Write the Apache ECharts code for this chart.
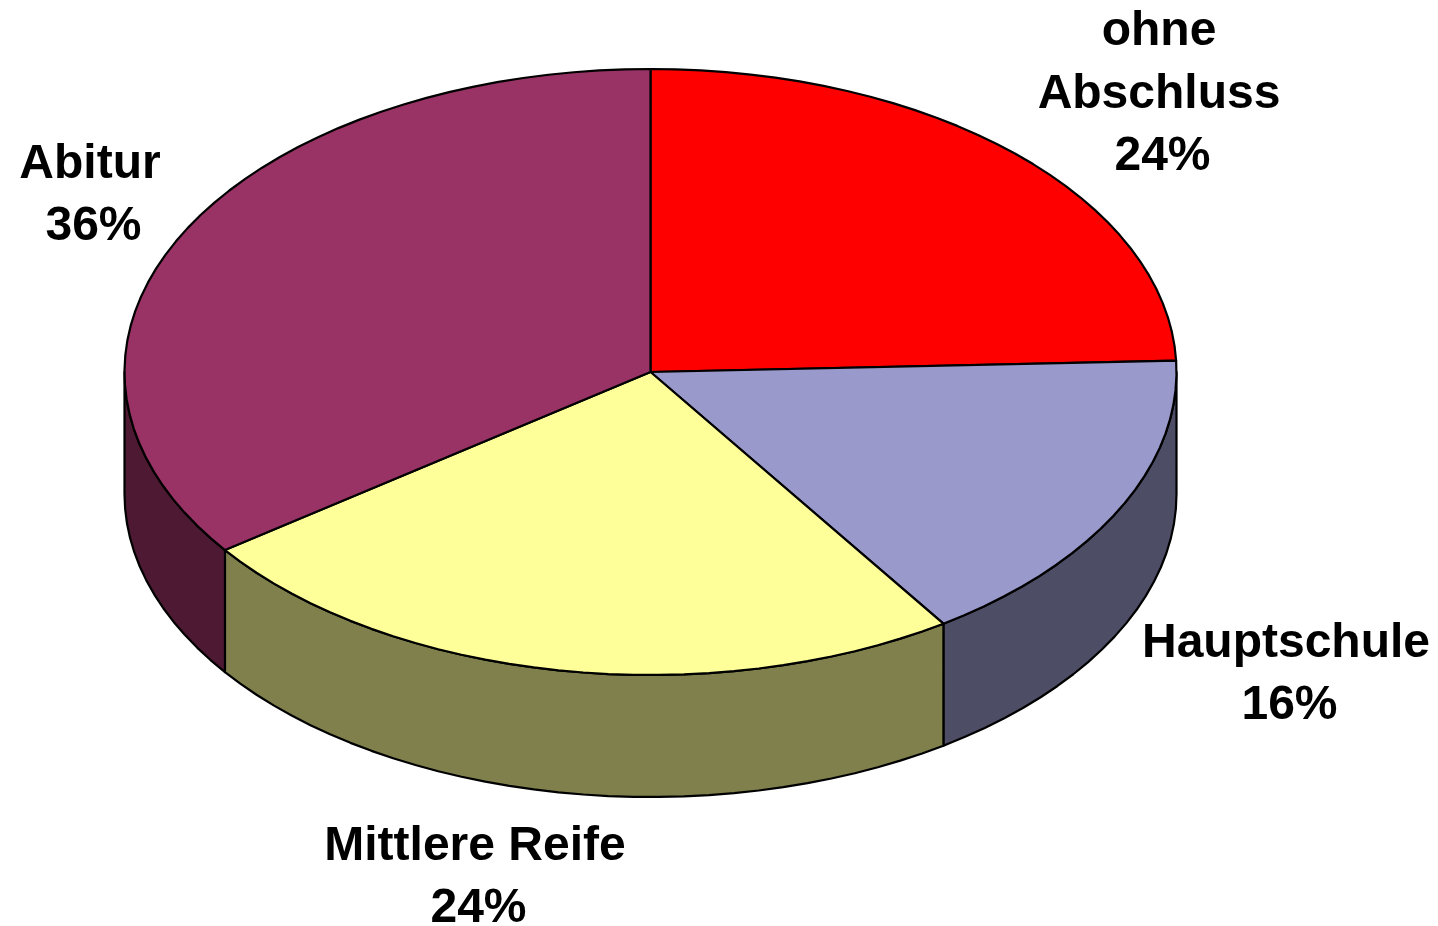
<!DOCTYPE html>
<html>
<head>
<meta charset="utf-8">
<title>Abschluss</title>
<style>
html, body { margin: 0; padding: 0; background: #fff; }
#main { width: 1438px; height: 926px; }
</style>
<script src="https://cdn.jsdelivr.net/npm/echarts@6/dist/echarts.min.js"></script>
</head>
<body>
<div id="main"></div>
<script>
// data
var categories = ['ohne\nAbschluss', 'Hauptschule', 'Mittlere Reife', 'Abitur'];
var values = [24.4, 16.2, 24.4, 35.0];
// percentages as printed in the labels (the picture prints 36% on a slice drawn a bit smaller)
var percentLabels = ['24%', '16%', '24%', '36%'];

// colours for the top face and the side wall of each slice
var topColors = ['#FF0000', '#9999CC', '#FFFF99', '#993366'];
var sideColors = ['#800000', '#4D4D66', '#80804D', '#4D1933'];

// label anchor: x of the name, y of the line between name and percentage
var labelAnchors = [[1159, 126], [1286, 675], [475, 878], [90, 196]];

// pie layout
var cx = 650.5, cy = 372, rx = 526, ry = 303, depth = 122;
var total = values.reduce(function (a, b) { return a + b; }, 0);

function arcPoints(from, to, dy) {
	var pts = [];
	var n = Math.max(2, Math.ceil((to - from) / (Math.PI / 64)));
	for (var i = 0; i <= n; i++) {
		var t = from + (to - from) * i / n;
		pts.push([cx + rx * Math.sin(t), cy - ry * Math.cos(t) + dy]);
	}
	return pts;
}

function labelText(text, x, y, vAlign, z2) {
	return {
		type: 'text',
		z2: z2,
		style: {
			x: x,
			y: y,
			text: text,
			font: 'bold 48px "Liberation Sans", Arial, sans-serif',
			lineHeight: 62.5,
			fill: '#000',
			align: 'center',
			verticalAlign: vAlign
		}
	};
}

function renderSlice(params, api) {
	var i = params.dataIndex;
	var before = 0;
	for (var k = 0; k < i; k++) before += values[k];
	var from = before / total * Math.PI * 2;
	var to = (before + api.value(0)) / total * Math.PI * 2;
	var children = [];
	var lineStyle = { stroke: '#000', lineWidth: 2.2, lineJoin: 'round' };

	// side wall, only the part of the rim facing the viewer
	var wallFrom = Math.max(from, Math.PI / 2);
	var wallTo = Math.min(to, Math.PI * 3 / 2);
	if (wallTo > wallFrom) {
		var upper = arcPoints(wallFrom, wallTo, 0);
		var lower = arcPoints(wallFrom, wallTo, depth).reverse();
		children.push({
			type: 'polygon',
			shape: { points: upper.concat(lower) },
			style: Object.assign({ fill: sideColors[i] }, lineStyle)
		});
	}

	// top face
	children.push({
		type: 'polygon',
		z2: 2,
		shape: { points: [[cx, cy]].concat(arcPoints(from, to, 0)) },
		style: Object.assign({ fill: topColors[i] }, lineStyle)
	});

	var a = labelAnchors[i];
	children.push(labelText(categories[i], a[0], a[1], 'bottom', 3));
	children.push(labelText(percentLabels[i], a[0] + 3.5, a[1], 'top', 3));
	return { type: 'group', children: children };
}

var myChart = echarts.init(document.getElementById('main'));
myChart.setOption({
	animation: false,
	backgroundColor: '#fff',
	series: [{
		type: 'custom',
		coordinateSystem: 'none',
		renderItem: renderSlice,
		data: values.map(function (v, i) { return { name: categories[i], value: [v] }; })
	}]
});
</script>
</body>
</html>
